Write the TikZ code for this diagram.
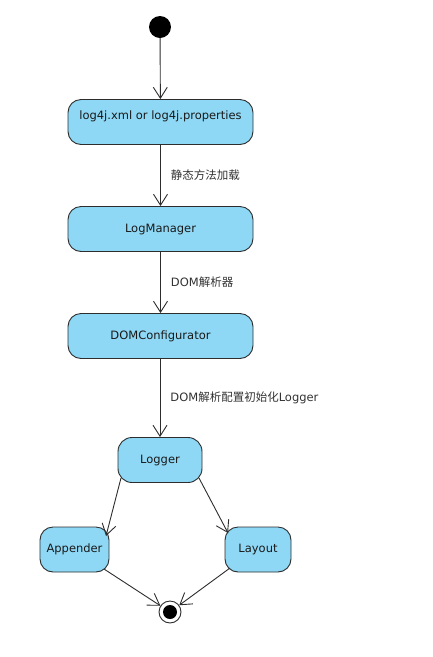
\documentclass[tikz,border=0pt]{standalone}
\usepackage{fontspec}
\setmainfont{DejaVu Sans}
\newfontfamily\cjk{Noto Sans CJK SC}
\usetikzlibrary{arrows.meta}
\definecolor{boxfill}{RGB}{142,216,245}
\definecolor{edgecol}{RGB}{45,45,45}
\definecolor{txtcol}{RGB}{25,25,25}
\definecolor{lblcol}{RGB}{50,50,50}
\begin{document}
\begin{tikzpicture}[x=1pt,y=-1pt,
  statebox/.style={draw=edgecol, line width=0.9pt, fill=boxfill, rounded corners=13pt,
    inner sep=0pt, text=txtcol, font=\fontsize{11.5}{13}\selectfont, minimum height=45pt},
  flow/.style={draw=edgecol, line width=0.9pt, -{Straight Barb[length=11pt,width=14pt,line width=0.9pt]}},
  edgelabel/.style={anchor=west, inner sep=0pt, xshift=10pt, text=lblcol, font=\fontsize{11.5}{13}\selectfont}
]
\useasboundingbox (0,0) rectangle (432,657);
\node[circle, fill=black, minimum size=22pt, inner sep=0pt] (start) at (160,27) {};
\node[statebox, minimum width=185pt, text height=20pt, text depth=25pt, minimum height=0pt] (b1) at (160.5,122) {log4j.xml or log4j.properties};
\node[statebox, minimum width=185pt] (b2) at (160.5,229) {LogManager};
\node[statebox, minimum width=185pt] (b3) at (160.5,336) {DOMConfigurator};
\node[statebox, minimum width=84pt, rounded corners=14pt] (logger) at (160,460) {Logger};
\node[statebox, minimum width=69pt] (app) at (74.5,549.5) {Appender};
\node[statebox, minimum width=66pt] (lay) at (258,549.5) {Layout};
\node[circle, draw=edgecol, line width=0.9pt, fill=white, minimum size=22pt, inner sep=0pt] (end) at (170,612) {};
\node[circle, fill=black, minimum size=14pt, inner sep=0pt] (endin) at (end.center) {};

\draw[flow] (start) -- (b1);
\draw[flow] (b1) -- node[edgelabel] {\cjk 静态方法加载} (b2);
\draw[flow] (b2) -- node[edgelabel] {DOM{\cjk 解析器}} (b3);
\draw[flow] (b3.south -| logger.north) -- node[edgelabel] {DOM{\cjk 解析配置初始化}Logger} (logger);
\draw[flow] ([shift={(-39,18)}]logger.center) -- ([shift={(31.5,-13.5)}]app.center);
\draw[flow] ([shift={(39,18)}]logger.center) -- ([shift={(-30,-16.5)}]lay.center);
\draw[flow] ([shift={(29.5,19.5)}]app.center) -- (end);
\draw[flow] ([shift={(-28,18.5)}]lay.center) -- (end);
\end{tikzpicture}
\end{document}
